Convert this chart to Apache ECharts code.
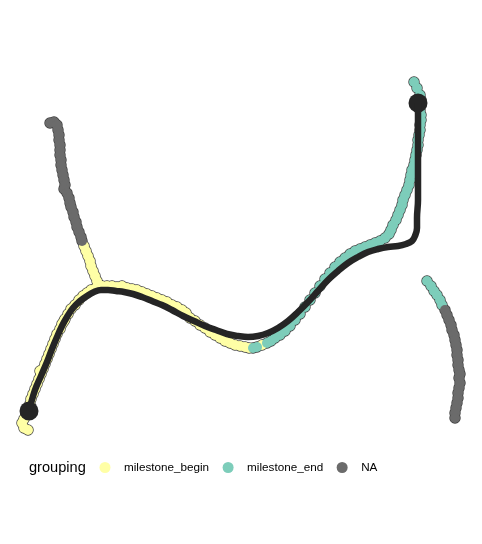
<!DOCTYPE html>
<html>
<head>
<meta charset="utf-8">
<script src="https://cdn.jsdelivr.net/npm/echarts@6/dist/echarts.min.js"></script>
<style>
  html, body { margin: 0; padding: 0; background: #fff; }
  #main { width: 482px; height: 544px; }
</style>
</head>
<body>
<div id="main"></div>
<script>
// cells of the dimensionality reduction (x right, y down)
var groupNames = ['milestone_begin', 'milestone_end', 'NA'];
var groupColors = ['#FFFFA6', '#7DCDBA', '#6B6B6B'];

var beginCells = [
    // branch going up to the left
    [84, 246], [86, 251], [88, 256], [90, 261], [91, 266], [93, 271], [95, 276], [97, 281], [99, 285],
    // from the split down to the start
    [96, 288], [91, 290], [87, 293], [83, 296], [79, 300], [75, 305], [71, 309], [68, 314], [65, 319],
    [62, 324], [60, 329], [57, 334], [55, 339], [53, 344], [51, 349], [49, 354], [47, 359], [45, 364],
    [43, 369], [41, 374], [39, 379], [37, 384], [35, 389], [33, 394], [31, 399], [30, 404], [28, 409],
    [26, 414], [24, 419], [22, 423], [24, 428], [28, 430], [64, 321], [40, 371],
    // from the split to the right, above the path
    [102, 286], [107, 286], [112, 286], [117, 287], [122, 286], [127, 288], [132, 289], [137, 290],
    [142, 292], [147, 294], [152, 296], [157, 298], [162, 300], [167, 302], [172, 305], [177, 307],
    [182, 310], [186, 313],
    // below the path towards the dip
    [190, 318], [195, 321], [200, 325], [205, 328], [210, 332], [215, 335], [220, 338], [225, 341],
    [230, 343], [235, 345], [240, 346], [245, 347], [249, 348], [262, 345]
];

var endCells = [
    [253, 348], [257, 347], [267, 343], [271, 341], [275, 338], [280, 335], [285, 331], [290, 326],
    [295, 320], [300, 314], [305, 307], [310, 300], [315, 293], [320, 286], [325, 279], [330, 273],
    [335, 267], [340, 262], [345, 258], [350, 254], [355, 251], [360, 249], [365, 247], [370, 245],
    [375, 243], [380, 241], [385, 238], [389, 234], [393, 225], [396, 220], [398, 215], [400, 210],
    [402, 205], [403, 200], [405, 195], [407, 190], [409, 185], [410, 180], [411, 175], [412, 170],
    [414, 165], [415, 160], [416, 155], [417, 150], [418, 145], [418, 140], [419, 135], [420, 130],
    [420, 125], [421, 120], [421, 115], [420, 110], [420, 105], [421, 100], [420, 95], [417, 88],
    [414, 82], [391, 230],
    // short branch on the right
    [427, 281], [431, 286], [434, 291], [437, 295], [440, 300], [442, 305]
];

var naCells = [
    // left branch
    [50, 123], [54, 122], [57, 125], [58, 130], [59, 135], [59, 140], [60, 145], [60, 150], [60, 155],
    [61, 160], [61, 165], [62, 170], [63, 175], [64, 180], [65, 185], [64, 189], [67, 193], [69, 198],
    [70, 203], [71, 207], [73, 212], [74, 217], [76, 222], [77, 227], [79, 232], [81, 237], [82, 241],
    // right branch
    [445, 310], [447, 315], [449, 320], [451, 325], [452, 330], [454, 335], [455, 340], [456, 345],
    [457, 350], [457, 355], [458, 360], [458, 365], [459, 370], [460, 374], [459, 378], [460, 383],
    [459, 388], [458, 393], [458, 398], [457, 403], [456, 408], [455, 413], [455, 418]
];

// trajectory through the milestones
var trajectory = [
    [29, 411], [35, 390], [41, 376], [47, 362], [52, 349], [57, 337], [62, 326], [67, 317], [73, 308],
    [80, 301], [87, 296], [94, 292], [101, 290], [108, 290], [116, 291], [124, 292], [133, 294],
    [142, 297], [152, 301], [162, 305], [172, 310], [183, 316], [194, 321], [205, 326], [216, 330],
    [227, 334], [238, 336], [248, 337], [258, 336], [268, 333], [278, 328], [288, 321], [298, 312],
    [308, 302], [318, 291], [328, 280], [338, 271], [348, 263], [358, 257], [368, 252], [378, 249],
    [388, 247], [398, 246], [406, 244], [412, 241], [415, 236], [417, 228], [417, 218], [418, 200],
    [418, 170], [418, 140], [418, 115], [418, 103]
];
var milestones = [[29, 411], [418, 103]];

var myChart = echarts.init(document.getElementById('main'));

function cellSeries(i, data) {
    return {
        name: groupNames[i],
        type: 'scatter',
        symbolSize: 10,
        itemStyle: {color: groupColors[i], opacity: 1},
        emphasis: {disabled: true},
        data: data
    };
}

var option = {
    backgroundColor: '#ffffff',
    animation: false,
    title: {
        text: 'grouping',
        left: 29,
        top: 460,
        padding: 0,
        textStyle: {
            fontFamily: 'Liberation Sans',
            fontSize: 14.6,
            fontWeight: 'normal',
            color: '#000'
        }
    },
    legend: {
        data: groupNames,
        left: 99.5,
        top: 461.5,
        padding: 0,
        icon: 'circle',
        itemWidth: 11,
        itemHeight: 11,
        itemGap: 13.5,
        textStyle: {
            fontFamily: 'Liberation Sans',
            fontSize: 11.7,
            color: '#000',
            padding: [0, 0, 0, 8.5]
        }
    },
    grid: {left: 0, right: 0, top: 0, bottom: 0},
    xAxis: {type: 'value', min: 0, max: 482, show: false},
    yAxis: {type: 'value', min: 0, max: 544, inverse: true, show: false},
    series: [
        {
            // outline under all cells
            name: 'outline',
            type: 'scatter',
            symbolSize: 11.4,
            itemStyle: {color: '#3a3a3a', opacity: 1},
            data: beginCells.concat(endCells, naCells),
            silent: true
        },
        cellSeries(0, beginCells),
        cellSeries(1, endCells),
        cellSeries(2, naCells),
        {
            name: 'trajectory',
            type: 'line',
            smooth: 0.4,
            showSymbol: false,
            lineStyle: {color: '#252525', width: 6.5, opacity: 1},
            data: trajectory,
            silent: true
        },
        {
            name: 'milestones',
            type: 'scatter',
            symbolSize: 19,
            itemStyle: {color: '#252525', opacity: 1},
            data: milestones,
            silent: true
        }
    ]
};

myChart.setOption(option);
</script>
</body>
</html>
